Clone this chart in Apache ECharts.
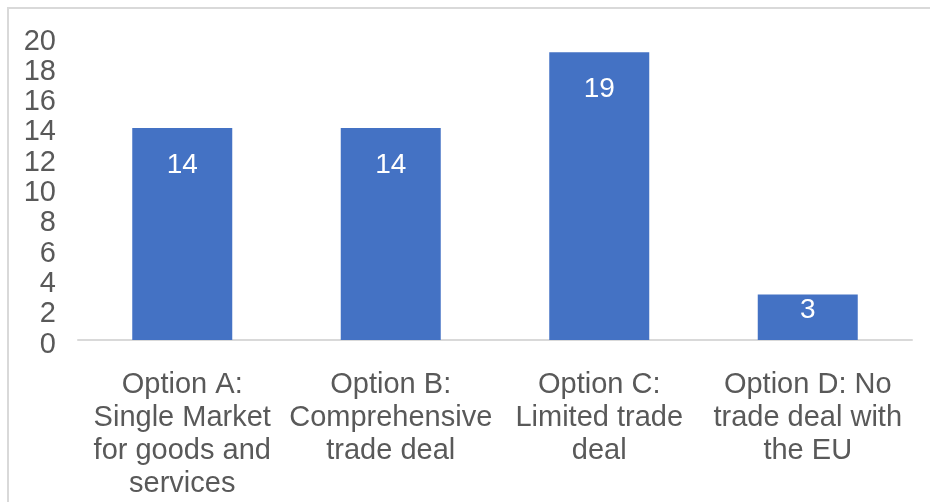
<!DOCTYPE html>
<html><head><meta charset="utf-8">
<script src="https://cdn.jsdelivr.net/npm/echarts@6/dist/echarts.min.js"></script>
<style>html,body{margin:0;padding:0;background:#fff;}#frame{position:absolute;left:7px;top:7px;width:940px;height:520px;border:2px solid #d9d9d9;box-sizing:border-box;}#c{position:absolute;left:0;top:0;width:930px;height:502px;}</style>
</head><body><div id="frame"></div><div id="c"></div>
<script>
const categories = ["Option A:\nSingle Market\nfor goods and\nservices", "Option B:\nComprehensive\ntrade deal", "Option C:\nLimited trade\ndeal", "Option D: No\ntrade deal with\nthe EU"];
const values = [14, 14, 19, 3];
const labelDistances = [23, 23, 23, 2];
const chart = echarts.init(document.getElementById('c'));
const font = 'Liberation Sans, Arial, sans-serif';
chart.setOption({
  animation: false,
  grid: {left: 78, right: 18, top: 37, bottom: 162},
  xAxis: {type: 'category', data: categories,
    axisLine: {lineStyle: {color: '#d9d9d9', width: 2}},
    axisTick: {show: false},
    axisLabel: {color: '#595959', fontSize: 29, fontFamily: font, lineHeight: 33, margin: 28, interval: 0}},
  yAxis: {type: 'value', min: 0, max: 20, interval: 2,
    splitLine: {show: false}, axisLine: {show: false}, axisTick: {show: false},
    axisLabel: {color: '#595959', fontSize: 29, fontFamily: font, margin: 22, verticalAlign: 'top', lineHeight: 29, padding: [-10, 0, 0, 0]}},
  series: [{type: 'bar', barWidth: 100,
    itemStyle: {color: '#4472c4'},
    data: values.map((v, i) => ({value: v, label: {distance: labelDistances[i]}})),
    label: {show: true, position: 'insideTop', color: '#ffffff', fontSize: 28, fontFamily: font}}]
});
</script></body></html>
